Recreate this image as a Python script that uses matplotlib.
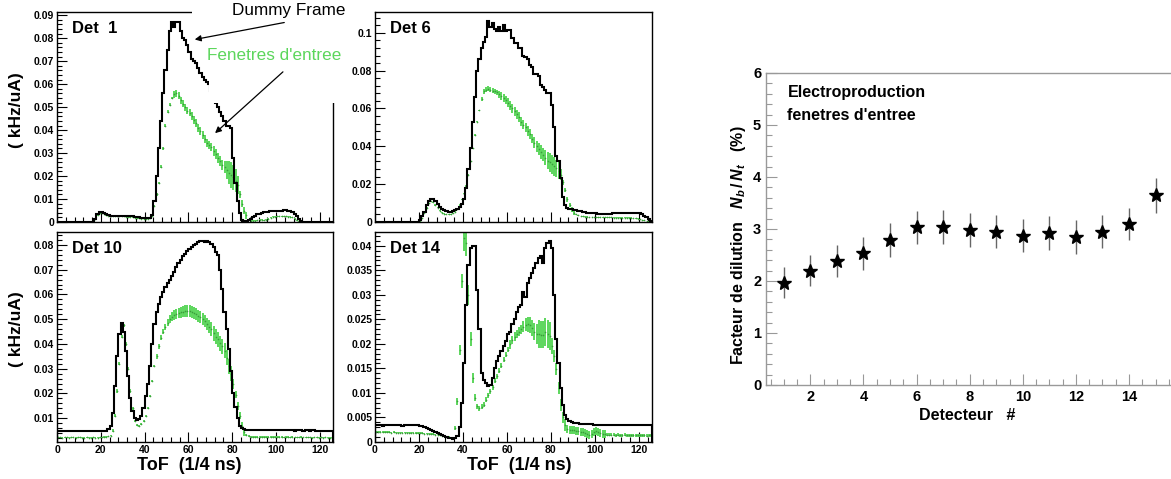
import numpy as np
import matplotlib
matplotlib.use("Agg")
import matplotlib.pyplot as plt
from matplotlib.patches import Rectangle
from matplotlib.ticker import MultipleLocator, FuncFormatter

plt.rcParams["font.family"] = ["Liberation Sans", "DejaVu Sans"]
plt.rcParams["mathtext.fontset"] = "custom"
plt.rcParams["mathtext.rm"] = "Liberation Sans:bold"
plt.rcParams["mathtext.it"] = "Liberation Sans:italic:bold"
plt.rcParams["mathtext.bf"] = "Liberation Sans:bold"

W, H = 1171, 479

# ToF bins (1/4 ns), one bin per channel
tof_edges = np.arange(0, 127)
tof_centers = tof_edges[:-1] + 0.5

# rates in 1e-3 kHz/uA, one value per ToF bin
det1_frame = [
    0, 0, 0, 0, 0, 0, 0, 0, 0, 0,
    0, 0, 0, 0, 0, 0, 0, 1.5, 3.5, 4.3,
    4.4, 4.0, 3.5, 3.0, 2.7, 2.6, 2.5, 2.6, 2.7, 2.8,
    2.8, 2.7, 2.7, 2.6, 2.4, 2.2, 2.0, 2.0, 1.9, 1.8,
    1.8, 1.8, 1.9, 3.0, 9, 20, 32, 44, 56, 66,
    75, 83, 87, 85, 87, 87, 83, 80, 79, 77,
    74, 71, 70, 69, 67, 65, 63, 62, 61, 60,
    57, 54, 52, 50, 48, 46, 44, 42, 42, 41,
    28, 17, 9, 4, 1.0, 0.4, 0.4, 0.8, 1.5, 2.2,
    2.8, 3.3, 3.6, 3.9, 4.2, 4.4, 4.5, 4.6, 4.7, 4.8,
    4.8, 4.9, 5.0, 5.1, 5.1, 5.0, 4.8, 4.4, 3.6, 2.5,
    1.2, 0.3, 0, 0, 0, 0, 0, 0, 0, 0,
    0, 0, 0, 0, 0, 0,
]
det1_windows = [
    0, 0, 0, 0, 0, 0, 0, 0, 0, 0,
    0, 0, 0, 0, 0, 0, 0, 1.2, 3.0, 3.8,
    3.9, 3.5, 3.0, 2.7, 2.5, 2.4, 2.4, 2.5, 2.5, 2.5,
    2.4, 2.3, 2.2, 2.1, 2.0, 1.8, 1.7, 1.6, 1.5, 1.5,
    1.4, 1.5, 1.7, 2.4, 7, 12, 17, 24, 32, 42,
    48, 51, 54, 55.5, 56, 55, 53, 51.5, 50, 48.5,
    47.5, 46, 44.5, 43, 41, 39.5, 38, 36, 34.5, 33.5,
    32.5, 31, 29.5, 28, 26.5, 25, 24, 22.5, 21.5, 20.5,
    19.5, 18, 16, 12, 8, 5, 3, 1.2, 0.6, 0.5,
    0.6, 0.8, 1.0, 0.9, 0.7, 1.0, 1.5, 1.9, 2.2, 2.3,
    2.4, 2.5, 2.5, 2.5, 2.4, 2.3, 2.2, 2.0, 1.5, 0.8,
    0.3, 0.1, 0, 0, 0, 0, 0, 0, 0, 0,
    0, 0, 0, 0, 0, 0,
]
det1_err = [
    0, 0, 0, 0, 0, 0, 0, 0, 0, 0,
    0, 0, 0, 0, 0, 0, 0, .2, .2, .2,
    .2, .2, .2, .2, .2, .2, .2, .2, .2, .2,
    .2, .2, .2, .2, .2, .2, .2, .2, .2, .2,
    .2, .2, .2, .2, .6, .6, .6, .6, .6, .6,
    .6, .6, .6, 1.5, 1.5, 1.5, 1.5, 1.5, 1.5, 1.5,
    1.5, 1.8, 1.8, 1.8, 1.8, 1.8, 1.8, 1.8, 1.8, 1.8,
    1.8, 2.2, 2.2, 2.2, 2.2, 2.2, 2.5, 4, 5, 5.5,
    5.5, 5, 4, 1.5, 1.5, 1.5, 1.5, .2, .2, .2,
    .2, .2, .2, .2, .2, .2, .2, .2, .2, .2,
    .2, .2, .2, .2, .2, .2, .2, .2, .2, .2,
    .2, .2, 0, 0, 0, 0, 0, 0, 0, 0,
    0, 0, 0, 0, 0, 0,
]

det6_frame = [
    0, 0, 0, 0, 0, 0, 0, 0, 0, 0,
    0, 0, 0, 0, 0, 0, 0, 0, 0, 0,
    1.0, 3.0, 5.5, 9, 11, 12, 12, 11, 9.5, 8,
    7, 6.3, 5.8, 5.5, 5.5, 5.8, 6.3, 7, 7.8, 9.5,
    12, 18, 28, 39, 53, 66, 80, 86, 92, 95,
    98, 106, 103, 105, 102, 101, 103, 101, 104, 101,
    101.5, 101.5, 97, 94.5, 94.5, 92, 92, 88, 87, 86,
    83, 82, 78, 78, 77, 72.5, 71.5, 70, 68, 68,
    62, 50, 35, 32, 23, 13, 9, 7.5, 7, 6.7,
    6.4, 6.2, 6.0, 5.7, 5.4, 5.2, 5.0, 4.8, 4.7, 4.6,
    4.5, 4.4, 4.3, 4.3, 4.3, 4.3, 4.4, 4.4, 4.5, 4.5,
    4.6, 4.6, 4.6, 4.7, 4.7, 4.7, 4.8, 4.8, 4.8, 4.7,
    4.6, 4.2, 3.4, 2.5, 1.5, 0.6,
]
det6_windows = [
    0, 0, 0, 0, 0, 0, 0, 0, 0, 0,
    0, 0, 0, 0, 0, 0, 0, 0, 0, 0,
    0.5, 2, 4.5, 7.5, 10, 11, 10.5, 9, 7.5, 6,
    5, 4.4, 4.1, 4.0, 4.1, 4.6, 5.5, 7, 9, 12,
    15, 19, 25, 32, 39, 46, 53, 59, 65, 69,
    70, 70.5, 70, 69.5, 69, 68.5, 67.5, 66.5, 65.5, 64.5,
    63, 61.5, 60, 58.5, 57, 55.5, 53, 51.5, 50, 48,
    46.5, 44, 42, 40, 38.5, 37, 35.5, 34, 32.5, 31.5,
    30.5, 29.5, 28.5, 27, 25, 21, 17, 12, 9, 6.5,
    5, 4, 3.5, 3.2, 3.0, 2.9, 2.8, 2.7, 2.7, 2.6,
    2.6, 2.5, 2.5, 2.5, 2.4, 2.4, 2.4, 2.4, 2.3, 2.3,
    2.3, 2.3, 2.3, 2.2, 2.2, 2.2, 2.2, 2.1, 2.0, 1.8,
    1.5, 1.1, 0.8, 0.5, 0.3, 0.1,
]
det6_err = [
    0, 0, 0, 0, 0, 0, 0, 0, 0, 0,
    0, 0, 0, 0, 0, 0, 0, 0, 0, 0,
    .3, .3, .3, .3, .3, .3, .3, .3, .3, .3,
    .3, .3, .3, .3, .3, .3, .3, .3, .3, .3,
    .3, .3, .3, .3, .3, .3, .3, .3, 1.2, 1.2,
    1.2, 1.5, 1.5, 1.5, 1.5, 1.5, 2, 2, 2, 2,
    2.3, 2.3, 2.3, 2.3, 2.3, 2.5, 2.5, 2.5, 2.5, 2.5,
    2.5, 2.5, 2.8, 3, 3, 3.5, 3.5, 4, 4.5, 5,
    5, 5, 4.5, 4.5, 3, 1.2, 1.2, 1.2, 1.2, 1.2,
    1.2, .2, .2, .2, .2, .2, .2, .2, .2, .2,
    .2, .2, .2, .2, .2, .2, .2, .2, .2, .2,
    .2, .2, .2, .2, .2, .2, .2, .2, .2, .2,
    .2, .2, .2, .2, .2, .2,
]

det10_frame = [
    5.0, 5.0, 5.0, 5.0, 5.0, 5.0, 5.0, 4.9, 4.9, 4.9,
    4.8, 4.8, 4.8, 4.8, 4.8, 4.8, 4.8, 4.8, 4.8, 4.8,
    4.8, 4.8, 4.8, 5.5, 7, 12, 23, 35, 44, 48.5,
    45, 37, 27, 18, 13, 10, 9.3, 9.8, 11, 14,
    19, 24, 31, 40, 48, 53, 56, 59, 61, 63,
    64.5, 66, 67.5, 69, 71, 72.5, 74, 75.5, 76.5, 77.5,
    78.5, 79, 80, 80.5, 81, 81.5, 81.5, 81, 81.5, 81,
    80.5, 79, 77, 76, 70, 62, 53, 46, 38, 29,
    20, 14.5, 10, 7, 6, 5.6, 5.4, 5.3, 5.2, 5.2,
    5.2, 5.2, 5.2, 5.1, 5.2, 5.2, 5.1, 5.2, 5.2, 5.2,
    5.1, 5.1, 5.2, 5.2, 5.1, 5.1, 5.1, 5.1, 5.0, 5.1,
    5.1, 5.1, 5.0, 5.1, 5.1, 5.0, 5.1, 5.1, 5.0, 5.0,
    5.0, 5.0, 5.0, 4.9, 5.0, 5.0,
]
det10_windows = [
    2.3, 2.3, 2.2, 2.3, 2.3, 2.2, 2.3, 2.3, 2.2, 2.3,
    2.3, 2.2, 2.2, 2.3, 2.2, 2.2, 2.3, 2.2, 2.2, 2.3,
    2.3, 2.4, 2.5, 2.7, 3.0, 5, 11, 21, 32, 43,
    47.5, 40, 30, 21, 14, 9, 7.3, 7, 7.8, 9,
    11, 14, 19, 25, 31, 35, 39, 42.5, 45, 47,
    48.5, 50, 51, 51.7, 52.2, 52.5, 52.8, 53, 53.2, 53.3,
    53.3, 53, 52.6, 52, 51.4, 50.8, 50, 49.3, 48, 47,
    46, 44.3, 43, 41.8, 40.3, 39, 37.3, 34.5, 31, 28,
    24, 19.5, 15, 11, 7, 4.5, 3.3, 2.8, 2.6, 2.5,
    2.5, 2.4, 2.5, 2.4, 2.4, 2.5, 2.4, 2.4, 2.4, 2.5,
    2.4, 2.4, 2.4, 2.3, 2.4, 2.4, 2.3, 2.4, 2.3, 2.3,
    2.3, 2.4, 2.3, 2.3, 2.3, 2.3, 2.2, 2.3, 2.3, 2.2,
    2.3, 2.2, 2.3, 2.2, 2.2, 2.2,
]
det10_err = [
    .3, .3, .3, .3, .3, .3, .3, .3, .3, .3,
    .3, .3, .3, .3, .3, .3, .3, .3, .3, .3,
    .3, .3, .3, .3, .3, .7, .7, .7, .7, .7,
    .7, .7, .7, .7, .7, .4, .4, .4, .4, .4,
    .4, .4, .4, .4, .4, 1, 1, 1, 1, 1.2,
    1.4, 1.6, 1.8, 2, 2, 2, 2.2, 2.2, 2.4, 2.4,
    2.4, 2.5, 2.5, 2.5, 2.5, 2.5, 2.5, 2.5, 2.5, 2.5,
    2.8, 3, 3, 3, 3, 3, 3, 3, 3, 3,
    2, 1.5, 1.5, 1.5, 1.5, 1.5, .3, .3, .3, .3,
    .3, .3, .3, .3, .3, .3, .3, .3, .3, .3,
    .3, .3, .3, .3, .3, .3, .3, .3, .3, .3,
    .3, .3, .3, .3, .3, .3, .3, .3, .3, .3,
    .3, .3, .3, .3, .3, .3,
]

det14_frame = [
    3.4, 3.4, 3.4, 3.3, 3.4, 3.4, 3.4, 3.4, 3.4, 3.4,
    3.4, 3.4, 3.3, 3.4, 3.4, 3.4, 3.4, 3.4, 3.4, 3.4,
    3.3, 3.2, 3.0, 2.8, 2.6, 2.4, 2.2, 2.0, 1.8, 1.6,
    1.4, 1.2, 1.0, 0.9, 0.8, 0.7, 0.8, 1.3, 3.0, 8,
    16, 28, 36, 39.5, 40, 40, 31, 23, 14, 12.7,
    12, 11.5, 11.7, 13, 15, 16.5, 17.5, 18.5, 19.5, 20.5,
    22, 22.5, 24, 25, 26.5, 27.5, 28, 30.5, 29.5, 32.5,
    33.5, 34.5, 35.5, 36.5, 37.5, 38, 36.5, 39.5, 40.5, 41,
    39.5, 30, 21, 16, 11, 7.5, 5.5, 4.6, 4.2, 4.0,
    3.9, 3.8, 3.8, 3.7, 3.7, 3.7, 3.6, 3.6, 3.6, 3.5,
    3.5, 3.5, 3.5, 3.5, 3.5, 3.4, 3.5, 3.5, 3.5, 3.4,
    3.5, 3.5, 3.5, 3.5, 3.5, 3.4, 3.5, 3.5, 3.5, 3.5,
    3.5, 3.5, 3.4, 3.5, 3.5, 3.5,
]
det14_windows = [
    2.1, 2.1, 2.0, 2.0, 2.0, 2.0, 2.0, 1.9, 2.0, 1.9,
    1.9, 1.9, 1.9, 1.9, 1.9, 1.9, 1.8, 1.9, 1.8, 1.8,
    1.8, 1.8, 1.7, 1.7, 1.7, 1.6, 1.6, 1.5, 1.5, 1.4,
    1.3, 1.2, 1.1, 1.0, 0.9, 0.8, 2.9, 8.3, 18.8, 32.8,
    41.5, 40.5, 30, 21, 13, 9, 7.3, 6.9, 7.2, 7.6,
    8.6, 9.5, 10.3, 11.2, 12.5, 13.4, 14.5, 15.5, 16.8, 17.8,
    18.8, 19.9, 20.8, 21.5, 22, 22.5, 23, 23.5, 23.9, 24,
    23.8, 23.3, 22.5, 22, 22, 21.9, 21.9, 22.4, 22, 21.6,
    19.5, 17.5, 14.8, 11, 7.5, 5, 3.4, 2.7, 2.5, 2.5,
    2.4, 2.3, 2.2, 2.1, 2.0, 1.9, 1.7, 1.5, 1.6, 2.0,
    2.2, 2.0, 1.8, 1.7, 1.6, 1.5, 1.5, 1.5, 1.5, 1.4,
    1.5, 1.4, 1.4, 1.5, 1.4, 1.4, 1.4, 1.4, 1.4, 1.4,
    1.4, 1.4, 1.4, 1.3, 1.4, 1.4,
]
det14_err = [
    .15, .15, .15, .15, .15, .15, .15, .15, .15, .15,
    .15, .15, .15, .15, .15, .15, .15, .15, .15, .15,
    .15, .15, .15, .15, .15, .15, .15, .15, .15, .15,
    .15, .15, .15, .15, .15, .15, .4, .7, 1, 1.5,
    2.5, 2.5, 2, 1.5, 1, .7, .5, .5, .5, .5,
    .5, .5, .5, .5, .5, .5, .5, .5, .5, .5,
    .5, .9, .9, .9, .9, .9, .9, 1.1, 1.3, 1.5,
    1.6, 1.6, 1.8, 2, 2.8, 2.8, 2.8, 2.8, 2.8, 2.8,
    1.6, 1.2, 1.2, 1.2, 1.2, 1.2, 1.2, .8, .8, .8,
    .8, .8, .8, .8, .8, .8, .8, .8, .8, .8,
    .8, .8, .8, .8, .8, .3, .3, .3, .3, .3,
    .3, .3, .3, .3, .3, .3, .3, .3, .3, .3,
    .3, .3, .3, .3, .3, .3,
]

# dilution factor per detector (%)
detectors = [1, 2, 3, 4, 5, 6, 7, 8, 9, 10, 11, 12, 13, 14, 15]
dilution = [1.97, 2.20, 2.38, 2.53, 2.79, 3.03, 3.04, 2.98, 2.95, 2.87, 2.92, 2.85, 2.95, 3.09, 3.65]
dilution_err = [0.29, 0.30, 0.31, 0.31, 0.32, 0.32, 0.33, 0.32, 0.32, 0.32, 0.33, 0.33, 0.32, 0.31, 0.34]

GREEN = "#5cd65c"
GREEN_DARK = "#3a9e3a"
GREY = "#999999"


def box(left, top, right, bottom):
    # figure pixel box -> figure fraction rect
    return [left / W, 1 - bottom / H, (right - left) / W, (bottom - top) / H]


def fmt(v, _):
    return "%g" % round(v, 6)


def draw_panel(ax, frame, windows, errs, title, ylim, ystep, show_x):
    ax.stairs(np.array(frame) * 1e-3, tof_edges, color="black", lw=1.5, zorder=3)
    y = np.array(windows, dtype=float) * 1e-3
    y[y == 0] = np.nan
    ax.errorbar(tof_centers, y, yerr=np.array(errs) * 1e-3, fmt="o", ms=1.2,
                mew=0, color=GREEN_DARK, ecolor=GREEN, elinewidth=1.4,
                capsize=0, zorder=2)
    ax.set_xlim(0, 126)
    ax.set_ylim(*ylim)
    ax.xaxis.set_major_locator(MultipleLocator(20))
    ax.xaxis.set_minor_locator(MultipleLocator(4))
    ax.yaxis.set_major_locator(MultipleLocator(ystep))
    ax.yaxis.set_minor_locator(MultipleLocator(ystep / 5))
    ax.yaxis.set_major_formatter(FuncFormatter(fmt))
    ax.tick_params(which="both", direction="in", labelsize=7.5, pad=2, width=0.8)
    ax.tick_params(which="major", length=7)
    ax.tick_params(which="minor", length=3.5)
    ax.tick_params(axis="x", labelbottom=show_x)
    for lab in ax.get_xticklabels() + ax.get_yticklabels():
        lab.set_fontweight("bold")
    for sp in ax.spines.values():
        sp.set_linewidth(1.0)
    ax.text(0.055, 0.955, title, transform=ax.transAxes, fontsize=12,
            fontweight="bold", va="top", ha="left")


fig = plt.figure(figsize=(W / 100, H / 100), dpi=100)

ax1 = fig.add_axes(box(57, 12, 333, 222))
ax6 = fig.add_axes(box(375, 12, 652, 222))
ax10 = fig.add_axes(box(57, 232, 333, 442))
ax14 = fig.add_axes(box(375, 232, 652, 442))

draw_panel(ax1, det1_frame, det1_windows, det1_err, "Det  1", (0, 0.0914), 0.01, False)
draw_panel(ax6, det6_frame, det6_windows, det6_err, "Det 6", (0, 0.111), 0.02, False)
draw_panel(ax10, det10_frame, det10_windows, det10_err, "Det 10", (0.0004, 0.0852), 0.01, True)
draw_panel(ax14, det14_frame, det14_windows, det14_err, "Det 14", (0, 0.0428), 0.005, True)

# white label boxes over the top-right corner of the Det 1 frame
for l, t, r, b in [(192, 0, 346, 25), (209, 25, 346, 103)]:
    ax1.add_patch(Rectangle((l / W, 1 - b / H), (r - l) / W, (b - t) / H,
                            transform=fig.transFigure, facecolor="white",
                            edgecolor="none", clip_on=False, zorder=10))

ax1.text(232 / W, 1 - 10 / H, "Dummy Frame", transform=fig.transFigure,
         fontsize=12.3, color="black", va="center", ha="left", zorder=12)
ax1.text(207 / W, 1 - 55 / H, "Fenetres d'entree", transform=fig.transFigure,
         fontsize=12.3, color=GREEN, va="center", ha="left", zorder=12)
arrow = dict(arrowstyle="-|>", color="black", lw=0.9, mutation_scale=9)
ax1.annotate("", xy=(192 / W, 1 - 40 / H), xytext=(287 / W, 1 - 22 / H),
             xycoords="figure fraction", textcoords="figure fraction",
             arrowprops=arrow, zorder=12, annotation_clip=False)
ax1.annotate("", xy=(213 / W, 1 - 135 / H), xytext=(285 / W, 1 - 70 / H),
             xycoords="figure fraction", textcoords="figure fraction",
             arrowprops=arrow, zorder=12, annotation_clip=False)

for yc in (110, 329):
    fig.text(17 / W, 1 - yc / H, "( kHz/uA)", rotation=90, fontsize=12.5,
             fontweight="bold", ha="center", va="center")
for xc in (189, 519):
    fig.text(xc / W, 1 - 465 / H, "ToF  (1/4 ns)", fontsize=13,
             fontweight="bold", ha="center", va="center")

# dilution factor panel
axr = fig.add_axes(box(766, 73, 1171, 385))
axr.errorbar(detectors, dilution, yerr=dilution_err, fmt="*", ms=10,
             color="black", ecolor="#666666", elinewidth=1.0, capsize=0)
axr.set_xlim(0.33, 15.58)
axr.set_ylim(0, 6)
axr.xaxis.set_major_locator(MultipleLocator(2))
axr.xaxis.set_minor_locator(MultipleLocator(0.5))
axr.yaxis.set_major_locator(MultipleLocator(1))
axr.yaxis.set_minor_locator(MultipleLocator(0.2))
axr.tick_params(which="both", direction="in", color=GREY, labelsize=10.5, width=0.8)
axr.tick_params(which="major", length=8)
axr.tick_params(which="minor", length=4)
for lab in axr.get_xticklabels() + axr.get_yticklabels():
    lab.set_fontweight("bold")
axr.spines["right"].set_visible(False)
for side in ("left", "bottom", "top"):
    axr.spines[side].set_color(GREY)
    axr.spines[side].set_linewidth(1.0)

axr.text(788 / W, 1 - 93 / H, "Electroproduction", transform=fig.transFigure,
         fontsize=11.5, fontweight="bold", va="center", ha="left")
axr.text(787 / W, 1 - 115 / H, "fenetres d'entree", transform=fig.transFigure,
         fontsize=11.5, fontweight="bold", va="center", ha="left")
fig.text(738 / W, 1 - 245 / H, "Facteur de dilution   $N_b\\,/\\,N_t$   (%)",
         rotation=90, fontsize=11.5, fontweight="bold", ha="center", va="center")
fig.text(967 / W, 1 - 415 / H, "Detecteur   #", fontsize=11.5,
         fontweight="bold", ha="center", va="center")

fig.savefig("out.png", dpi=100)
